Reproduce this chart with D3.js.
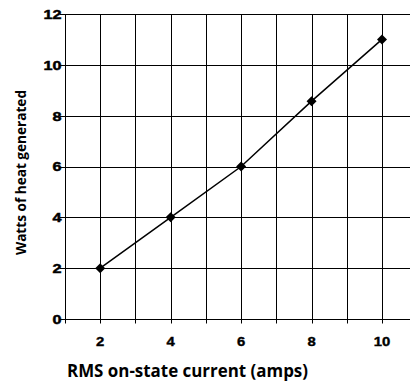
<!DOCTYPE html>
<html><head><meta charset="utf-8">
<script src="https://cdn.jsdelivr.net/npm/d3@7"></script>
<style>body{margin:0;background:#fff}svg{display:block}</style>
</head><body>
<svg id="c" width="410" height="381"></svg>
<script>
const current = [2, 4, 6, 8, 10];
const watts = [2, 4, 6, 8.57, 11];
const xTicks = [2, 4, 6, 8, 10];
const yTicks = [0, 2, 4, 6, 8, 10, 12];
const xGrid = [1, 2, 3, 4, 5, 6, 7, 8, 9, 10, 11, 12];

const svg = d3.select("#c");
const x = d3.scaleLinear().domain([1, 10]).range([65, 382]);
const y = d3.scaleLinear().domain([0, 12]).range([319, 14]);
const px = v => Math.round(v) + 0.5;

const g = svg.append("g");
// horizontal grid
g.selectAll("line.h").data(yTicks).join("line")
  .attr("x1", 60).attr("x2", 410)
  .attr("y1", d => px(y(d))).attr("y2", d => px(y(d)))
  .attr("stroke", "#000").attr("stroke-width", 1);
// vertical grid
g.selectAll("line.v").data(xGrid).join("line")
  .attr("x1", d => px(x(d))).attr("x2", d => px(x(d)))
  .attr("y1", px(y(12))).attr("y2", px(y(0)) + 4)
  .attr("stroke", "#000").attr("stroke-width", 1);

// y tick labels
g.selectAll("text.yl").data(yTicks).join("text")
  .attr("transform", d => `translate(61.5,${y(d)}) scale(1.2,1)`)
  .attr("dy", "0.36em")
  .attr("text-anchor", "end")
  .attr("font-family", "Liberation Sans, Arial, sans-serif")
  .attr("font-weight", "bold").attr("font-size", 13.5)
  .attr("stroke", "#000").attr("stroke-width", 0.5)
  .text(d => d);
// x tick labels
g.selectAll("text.xl").data(xTicks).join("text")
  .attr("transform", d => `translate(${x(d)},345.5) scale(1.1,1)`)
  .attr("text-anchor", "middle")
  .attr("font-family", "Liberation Sans, Arial, sans-serif")
  .attr("font-weight", "bold").attr("font-size", 13.5)
  .attr("stroke", "#000").attr("stroke-width", 0.4)
  .text(d => d);

// line
const line = d3.line().x((d, i) => x(current[i])).y(d => y(d));
g.append("path").datum(watts).attr("d", line)
  .attr("fill", "none").attr("stroke", "#000").attr("stroke-width", 1.5);
// markers
g.selectAll("path.m").data(watts).join("path")
  .attr("transform", (d, i) => `translate(${x(current[i])},${y(d)})`)
  .attr("d", d3.symbol(d3.symbolDiamond2, 64)())
  .attr("fill", "#000");

// axis titles
svg.append("text").attr("x", 187.5).attr("y", 377)
  .attr("text-anchor", "middle")
  .attr("font-family", "Open Sans, sans-serif").attr("font-weight", "bold")
  .attr("font-size", 17).attr("textLength", 241).attr("lengthAdjust", "spacingAndGlyphs")
  .text("RMS on-state current (amps)");
svg.append("text").attr("transform", "translate(25.5,172.5) rotate(-90)")
  .attr("text-anchor", "middle")
  .attr("font-family", "Open Sans, sans-serif").attr("font-weight", "bold")
  .attr("font-size", 15).attr("textLength", 165).attr("lengthAdjust", "spacingAndGlyphs")
  .text("Watts of heat generated");
</script>
</body></html>
